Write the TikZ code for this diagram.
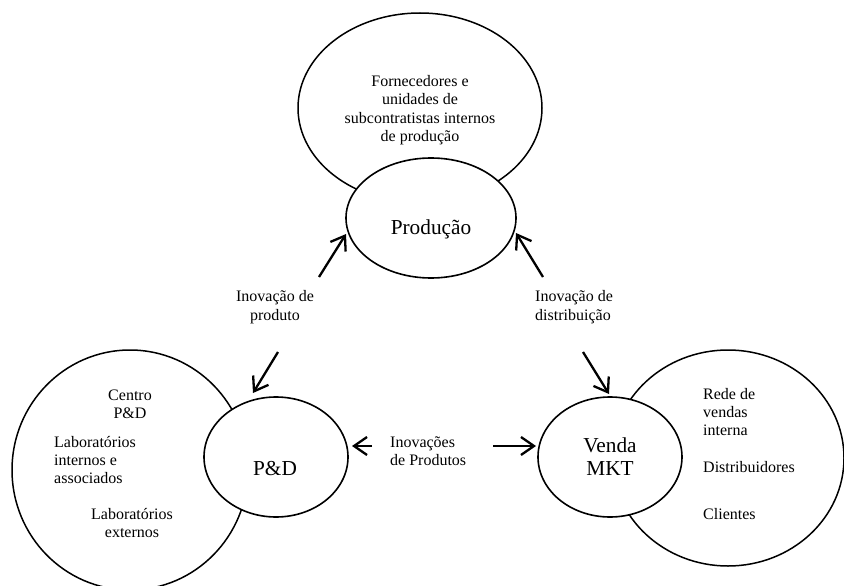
\documentclass[tikz,border=0pt]{standalone}
\usepackage{fontspec}
\setmainfont{Liberation Serif}
\usetikzlibrary{arrows.meta}
\tikzset{
  bigell/.style={draw=black, line width=1.5pt},
  smallell/.style={draw=black, fill=white, line width=1.6pt},
  arr/.style={line width=2.3pt, -{Straight Barb[length=13pt,width=18pt]}},
  smalltxt/.style={inner sep=0pt, font=\fontsize{16}{18.4}\selectfont},
  bigtxt/.style={inner sep=0pt, font=\fontsize{21.3}{23}\selectfont, align=center},
}
\begin{document}
\begin{tikzpicture}[x=1pt,y=-1pt]
\useasboundingbox (0,0) rectangle (844,586);
\clip (0,0) rectangle (844,586);
% big ellipses
\draw[bigell] (420,108) ellipse [x radius=122, y radius=95];
\draw[bigell] (130,470) ellipse [x radius=118, y radius=120];
\draw[bigell] (728,458) ellipse [x radius=116, y radius=108];
% small ellipses
\draw[smallell] (431,218) ellipse [x radius=85, y radius=60];
\draw[smallell] (276,457) ellipse [x radius=72, y radius=60];
\draw[smallell] (610,457) ellipse [x radius=72, y radius=60];
% main labels
\node[bigtxt] (prod) at (431,229) {Produção};
\node[bigtxt] (pd) at (275,469) {P\&D};
\node[bigtxt] (venda) at (610,457) {Venda\\MKT};
% inner texts
\node[smalltxt, align=center] (forn) at (420,110) {Fornecedores e\\unidades de\\subcontratistas internos\\de produção};
\node[smalltxt, align=center] (centro) at (130,404) {Centro\\P\&D};
\node[smalltxt, align=left, anchor=west] (labint) at (54,460) {Laboratórios\\internos e\\associados};
\node[smalltxt, align=center] (labext) at (132,523) {Laboratórios\\externos};
\node[smalltxt, align=left, anchor=west] (rede) at (703,412) {Rede de\\vendas\\interna};
\node[smalltxt, anchor=west] (dist) at (703,467) {Distribuidores};
\node[smalltxt, anchor=west] (cli) at (703,514) {Clientes};
% connector labels
\node[smalltxt, align=center] (lprod) at (275,307) {Inovação de\\produto};
\node[smalltxt, align=left, anchor=west] (ldist) at (535,307) {Inovação de\\distribuição};
\node[smalltxt, align=left, anchor=west] (lpr) at (390,451) {Inovações\\de Produtos};
% arrow end points
\coordinate (a1s) at (319,277); \coordinate (a1e) at (346,234);
\coordinate (a2s) at (278,352); \coordinate (a2e) at (253,393);
\coordinate (a3s) at (543,277); \coordinate (a3e) at (516,233);
\coordinate (a4s) at (583,352); \coordinate (a4e) at (609,394);
\coordinate (a5s) at (372,446); \coordinate (a5e) at (352,446);
\coordinate (a6s) at (493,446); \coordinate (a6e) at (536,446);
\draw[arr] (a1s) -- (a1e);
\draw[arr] (a2s) -- (a2e);
\draw[arr] (a3s) -- (a3e);
\draw[arr] (a4s) -- (a4e);
\draw[arr] (a5s) -- (a5e);
\draw[arr] (a6s) -- (a6e);
\end{tikzpicture}
\end{document}
